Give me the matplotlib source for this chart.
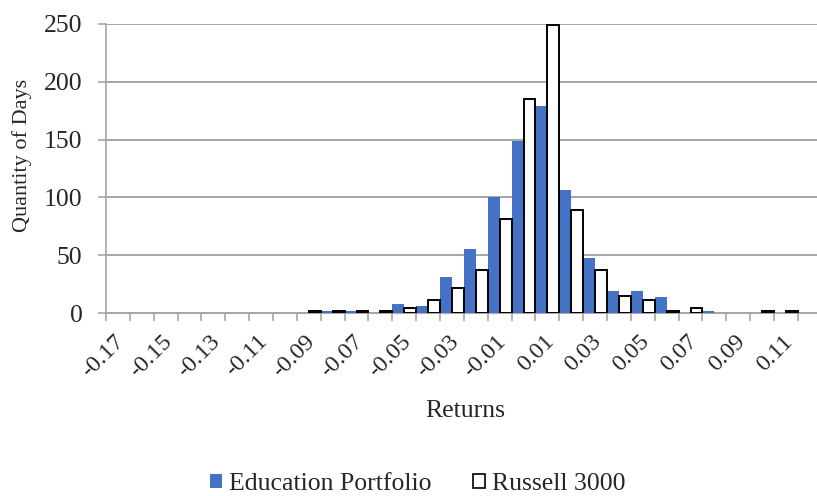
import matplotlib.pyplot as plt
import matplotlib.transforms as mtransforms
import numpy as np
from matplotlib.patches import Patch

# histogram of daily returns, bins -0.17 .. 0.11
returns = [round(-0.17 + 0.01 * i, 2) for i in range(29)]
education = [0, 0, 0, 0, 0, 0, 0, 0, 0, 2, 2, 0, 8, 6, 31, 55,
             100, 149, 179, 106, 48, 19, 19, 14, 0, 2, 0, 0, 0]
russell = [0, 0, 0, 0, 0, 0, 0, 0, 2, 2, 2, 2, 4, 11, 22, 37,
           81, 185, 249, 89, 37, 15, 11, 2, 4, 0, 0, 2, 2]

blue = '#4472C4'
grid_col = '#A6A6A6'
txt = '#262626'

plt.rcParams['font.family'] = ['Liberation Serif', 'DejaVu Serif']

fig = plt.figure(figsize=(8.17, 4.96), dpi=100)
ax = fig.add_axes([106 / 817, 1 - 313 / 496, 1 - 106 / 817, (313 - 24) / 496])

x = np.arange(len(returns))
ax.bar(x - 0.5, education, width=0.5, align='edge', color=blue,
       linewidth=0, zorder=3)
lw = [1.4 if v > 0 else 0 for v in russell]
ax.bar(x, russell, width=0.5, align='edge', color='white', edgecolor='black',
       linewidth=lw, zorder=3)

ax.set_xlim(-0.5, 29.3)
ax.set_ylim(0, 250)
ax.set_yticks(range(0, 251, 50))
ax.yaxis.grid(True, color=grid_col, linewidth=1.4, zorder=0)

ax.set_xticks(x[::2])
ax.set_xticklabels(['%.2f' % r for r in returns[::2]], rotation=45,
                   ha='right', va='top', rotation_mode='anchor')
ax.set_xticks(np.arange(-0.5, 29.5, 1), minor=True)
ax.tick_params(axis='x', which='major', length=0, pad=13, labelsize=17.5,
               labelcolor=txt)
ax.tick_params(axis='x', which='minor', length=6, width=1.2, color=grid_col)
ax.tick_params(axis='y', length=6, width=1.2, color=grid_col, labelsize=18.5,
               labelcolor=txt, pad=11)

# nudge rotated labels a little to the left
shift = mtransforms.ScaledTranslation(-4 / 100, 0, fig.dpi_scale_trans)
for lab in ax.get_xticklabels():
    lab.set_transform(lab.get_transform() + shift)

for s in ['top', 'right']:
    ax.spines[s].set_visible(False)
ax.spines['left'].set_color(grid_col)
ax.spines['bottom'].set_color(grid_col)
ax.spines['left'].set_linewidth(1.2)
ax.spines['bottom'].set_linewidth(1.4)

fig.text(22 / 817, 1 - 155 / 496, 'Quantity of Days', rotation=90,
         ha='center', va='center', fontsize=16, color=txt)
fig.text(465 / 817, 1 - 411 / 496, 'Returns', ha='center', va='center',
         fontsize=18.5, color=txt)

handles = [Patch(facecolor=blue, edgecolor='none', label='Education Portfolio'),
           Patch(facecolor='white', edgecolor='black', linewidth=1.2,
                 label='Russell 3000')]
fig.legend(handles=handles, loc='center', bbox_to_anchor=(418 / 817, 1 - 484 / 496),
           ncol=2, frameon=False, fontsize=18.5, handlelength=0.45,
           handleheight=0.5, handletextpad=0.3, columnspacing=1.6,
           labelcolor=txt)

fig.savefig('out.png', dpi=100)
